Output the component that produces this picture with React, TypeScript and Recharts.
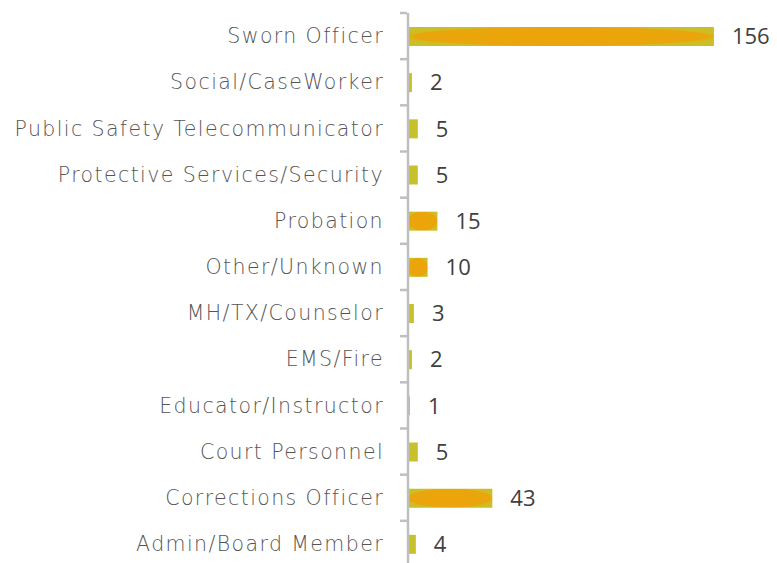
import { BarChart, Bar, XAxis, YAxis, Cell, LabelList } from "recharts";

const categories = [
  "Sworn Officer",
  "Social/CaseWorker",
  "Public Safety Telecommunicator",
  "Protective Services/Security",
  "Probation",
  "Other/Unknown",
  "MH/TX/Counselor",
  "EMS/Fire",
  "Educator/Instructor",
  "Court Personnel",
  "Corrections Officer",
  "Admin/Board Member",
];
const counts = [156, 2, 5, 5, 15, 10, 3, 2, 1, 5, 43, 4];

const data = categories.map((name, i) => ({ name, value: counts[i] }));

const CHART_H = 580;
const TOP = 5;
const BOTTOM = 21;
const STEP = (CHART_H - TOP - BOTTOM) / categories.length;

const CategoryTick = (props: any) => {
  const { x, y, payload, index } = props;
  const half = STEP / 2;
  return (
    <g>
      <line x1={x} x2={x + 7} y1={y - half} y2={y - half} stroke="#BFBFBF" strokeWidth={2.5} />
      {index === categories.length - 1 && (
        <line x1={x} x2={x + 7} y1={y + half} y2={y + half} stroke="#BFBFBF" strokeWidth={2.5} />
      )}
      <text
        x={x - 16}
        y={y}
        dy="0.35em"
        textAnchor="end"
        fill="#555555"
        fontSize={20.5}
        fontWeight={300}
        letterSpacing={1.4}
        fontFamily="DejaVu Sans"
      >
        {payload.value}
      </text>
    </g>
  );
};

export default function App() {
  return (
    <BarChart
      width={769}
      height={CHART_H}
      data={data}
      layout="vertical"
      margin={{ top: TOP, right: 16, bottom: BOTTOM, left: 0 }}
    >
      <defs>
        <radialGradient id="barFill" cx="50%" cy="50%" r="52%">
          <stop offset="0%" stopColor="#EDA40A" />
          <stop offset="92%" stopColor="#E9A60C" />
          <stop offset="100%" stopColor="#CDBE26" />
        </radialGradient>
      </defs>
      <XAxis type="number" domain={[0, 180]} hide />
      <YAxis
        type="category"
        dataKey="name"
        width={400}
        axisLine={{ stroke: "#BFBFBF", strokeWidth: 2.5 }}
        tickLine={false}
        tick={<CategoryTick />}
        interval={0}
      />
      <Bar dataKey="value" barSize={19} isAnimationActive={false}>
        {data.map((d, i) => (
          <Cell key={i} fill={d.value >= 10 ? "url(#barFill)" : "#C6C12C"} />
        ))}
        <LabelList
          dataKey="value"
          position="right"
          offset={18}
          fill="#404040"
          fontSize={22}
          fontFamily="Open Sans"
        />
      </Bar>
    </BarChart>
  );
}
